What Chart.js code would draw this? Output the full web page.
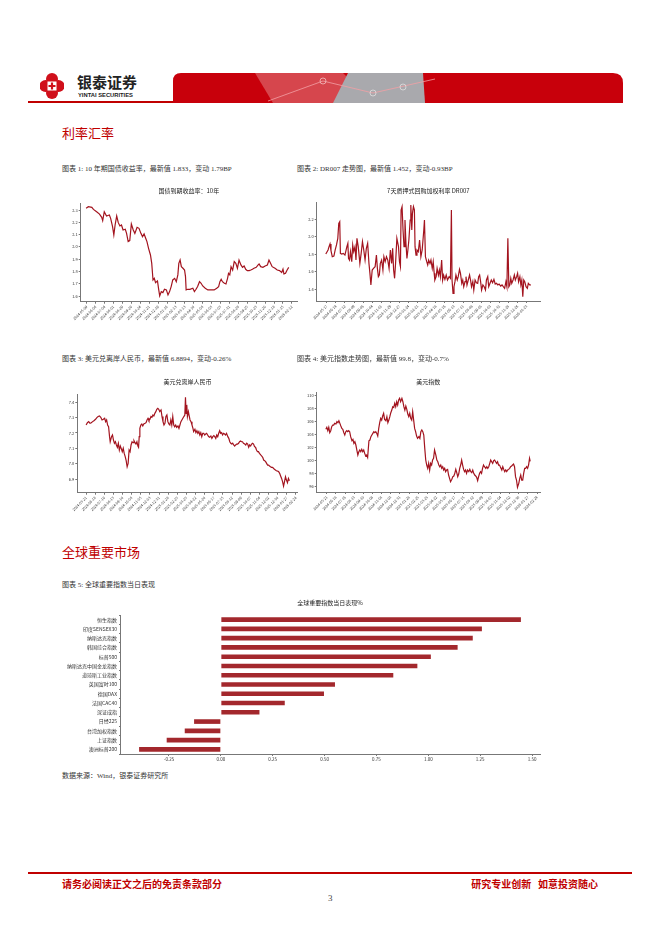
<!DOCTYPE html>
<html>
<head>
<meta charset="utf-8">
<script src="https://cdn.jsdelivr.net/npm/chart.js@4.4.1/dist/chart.umd.min.js"></script>
<style>
body { margin: 0; background: #fff; overflow: hidden; }
#page { position: relative; width: 662px; height: 936px; overflow: hidden; font-family: "Liberation Serif", "Noto Sans CJK SC", serif; color: #222; }
.abs { position: absolute; white-space: nowrap; }
.sec { font-family: "Noto Sans CJK SC"; font-size: 13px; line-height: 13px; color: #c00000; }
.cap { font-size: 7px; line-height: 7px; color: #333; }
.foot { font-family: "Noto Sans CJK SC"; font-size: 10px; line-height: 10px; color: #c00000; font-weight: bold; }
canvas { position: absolute; }
</style>
</head>
<body>
<div id="page">
  <!-- header -->
  <svg class="abs" style="left:40px;top:73px" width="24" height="26" viewBox="0 0 24 26">
    <g fill="#d0101b">
      <circle cx="12" cy="6" r="6"/><circle cx="12" cy="20" r="6"/>
      <circle cx="5.5" cy="13" r="6"/><circle cx="18.5" cy="13" r="6"/>
    </g>
    <rect x="7.5" y="8.5" width="9" height="9" fill="#fff"/>
    <path d="M12 9.5 v7 M8.5 13 h7" stroke="#d0101b" stroke-width="2.2"/>
  </svg>
  <div class="abs" style="left:77px;top:74px;font-family:'Noto Sans CJK SC';font-size:15px;line-height:15px;font-weight:bold;color:#222">银泰证券</div>
  <div class="abs" style="left:78px;top:92px;font-family:'Liberation Sans';font-size:5.8px;line-height:6px;font-weight:bold;color:#222">YINTAI SECURITIES</div>
  <div class="abs" style="left:28px;top:101px;width:147px;height:1.5px;background:#c00000"></div>
  <svg class="abs" style="left:173px;top:73px" width="450" height="30" viewBox="0 0 450 30">
    <path d="M8 0 H440 Q450 0 450 10 V30 H0 V8 Q0 0 8 0 Z" fill="#c8000b"/>
    <polygon points="82,0 170,0 200,30 100,30" fill="#d9575e" opacity="0.8"/>
    <polygon points="175,0 250,0 252,30 160,30" fill="#a9a9ad"/>
    <polyline points="95,28 150,8 200,20 262,6" stroke="#f2a0a4" stroke-width="0.8" fill="none"/>
    <circle cx="150" cy="8" r="3" fill="none" stroke="#f2c0c2" stroke-width="0.8"/>
    <circle cx="200" cy="20" r="3" fill="none" stroke="#e0e0e0" stroke-width="0.8"/>
    <circle cx="230" cy="14" r="3" fill="none" stroke="#e0e0e0" stroke-width="0.8"/>
  </svg>

  <div class="abs sec" style="left:62px;top:126px">利率汇率</div>
  <div class="abs cap" style="left:62px;top:166px">图表 1: 10 年期国债收益率，最新值 1.833，变动 1.79BP</div>
  <div class="abs cap" style="left:297px;top:166px">图表 2: DR007 走势图，最新值 1.452，变动-0.93BP</div>
  <canvas id="c1" width="240" height="150" style="left:60px;top:182px"></canvas>
  <canvas id="c2" width="245" height="150" style="left:297px;top:182px"></canvas>

  <div class="abs cap" style="left:62px;top:356px">图表 3: 美元兑离岸人民币，最新值 6.8894，变动-0.26%</div>
  <div class="abs cap" style="left:297px;top:356px">图表 4: 美元指数走势图，最新值 99.8，变动-0.7%</div>
  <canvas id="c3" width="240" height="150" style="left:60px;top:372px"></canvas>
  <canvas id="c4" width="245" height="150" style="left:297px;top:372px"></canvas>

  <div class="abs sec" style="left:62px;top:545px">全球重要市场</div>
  <div class="abs cap" style="left:62px;top:582px">图表 5: 全球重要指数当日表现</div>
  <canvas id="c5" width="485" height="172" style="left:60px;top:592px"></canvas>
  <div class="abs cap" style="left:62px;top:773px">数据来源：Wind，银泰证券研究所</div>

  <!-- footer -->
  <div class="abs" style="left:28px;top:872px;width:604px;height:1.5px;background:#c00000"></div>
  <div class="abs foot" style="left:62px;top:879px">请务必阅读正文之后的免责条款部分</div>
  <div class="abs foot" style="right:64px;top:879px">研究专业创新&nbsp;&nbsp;&nbsp;如意投资随心</div>
  <div class="abs" style="left:328px;top:894px;font-size:9px;line-height:9px;color:#444">3</div>
</div>

<script>
// chart 1: 10年期国债到期收益率 (day offset from first tick date, value)
const tickDates1 = ['2024-05-09','2024-06-06','2024-07-04','2024-08-01','2024-08-29','2024-09-26','2024-10-24','2024-11-21','2024-12-19','2025-01-16','2025-02-13','2025-03-13','2025-04-10','2025-05-08','2025-06-05','2025-07-03','2025-07-31','2025-08-28','2025-09-25','2025-10-23','2025-11-20','2025-12-18','2026-01-15','2026-02-12'];
const days1 = [-2,5,16,21,31,40,47,50,55,62,71,75,81,85,89,94,99,104,109,114,121,125,130,135,140,146,151,158,164,170,175,180,185,189,194,200,204,208,212,216,222,226,229,234,239,244,250,255,260,265,270,276,281,286,289,293,297,302,307,310,312,317,324,333,338,343,348,354,359,364,372,380,390,400,408,414,418,422,426,432,437,442,445,449,453,458,463,468,473,478,484,489,494,499,504,510,515,520,525,532,538,541,546,553,560,567,572,577,582,591,598,605,612,616,619,624,629,634];
const yield10y = [2.314,2.327,2.322,2.305,2.286,2.267,2.240,2.213,2.286,2.251,2.259,2.232,2.164,2.097,2.178,2.251,2.197,2.170,2.178,2.137,2.143,2.110,2.043,2.051,2.186,2.137,2.110,2.159,2.151,2.110,2.083,2.105,2.070,2.043,1.988,1.934,1.866,1.731,1.744,1.709,1.723,1.650,1.601,1.636,1.628,1.655,1.650,1.609,1.636,1.677,1.731,1.744,1.717,1.772,1.866,1.893,1.839,1.826,1.812,1.758,1.650,1.655,1.655,1.663,1.636,1.655,1.677,1.717,1.704,1.682,1.663,1.650,1.650,1.650,1.663,1.677,1.717,1.736,1.717,1.704,1.698,1.744,1.785,1.772,1.839,1.812,1.880,1.866,1.826,1.893,1.853,1.834,1.845,1.818,1.807,1.807,1.812,1.818,1.826,1.834,1.853,1.861,1.839,1.834,1.845,1.853,1.893,1.866,1.839,1.826,1.812,1.807,1.791,1.818,1.780,1.785,1.812,1.833];
const yTicks1 = [1.6,1.7,1.8,1.9,2.0,2.1,2.2,2.3];

// chart 2: DR007
const tickDates2 = ['2024-05-17','2024-06-14','2024-07-12','2024-08-09','2024-09-06','2024-10-04','2024-11-01','2024-11-29','2024-12-27','2025-01-24','2025-02-21','2025-03-21','2025-04-18','2025-05-16','2025-06-13','2025-07-11','2025-08-08','2025-09-05','2025-10-03','2025-10-31','2025-11-28','2025-12-26','2026-01-23'];
const days2 = [-3,1,4,7,10,13,17,22,26,30,34,37,40,42,46,51,56,62,65,67,70,73,77,80,83,87,90,93,97,102,106,110,114,118,122,126,130,133,136,140,144,149,153,156,159,162,165,169,173,176,180,184,188,192,196,200,203,206,209,212,216,221,224,227,229,232,235,238,241,244,247,250,253,257,259,262,264,267,270,272,275,278,282,286,290,294,299,301,304,308,311,314,318,321,325,328,331,333,337,340,344,347,350,354,357,360,364,368,372,377,381,384,386,389,392,395,398,402,405,409,412,416,419,422,426,429,432,436,440,443,446,450,453,457,461,465,468,471,474,477,481,485,489,492,496,499,503,507,511,515,519,523,527,531,536,540,544,548,552,555,558,561,564,567,570,574,578,581,585,588,591,595,598,601,604,607,610,614,618,621,625,629];
const dr007 = [1.804,1.830,1.850,1.888,1.918,1.842,1.773,1.781,1.850,1.907,1.983,2.154,2.173,1.811,1.804,1.811,1.792,1.888,1.926,1.754,1.735,1.830,1.716,1.907,1.830,1.888,1.735,1.983,1.888,1.697,1.811,1.945,1.850,1.735,1.869,1.926,1.697,1.583,1.450,1.621,1.640,1.659,1.792,1.640,1.545,1.564,1.697,1.735,1.621,1.773,1.716,1.773,1.735,1.640,1.850,1.697,1.869,1.621,1.526,1.697,1.983,1.888,1.716,1.659,2.307,2.345,2.078,1.888,2.192,1.926,1.754,1.850,1.964,2.192,2.364,2.078,2.269,2.345,2.307,1.888,1.792,1.850,1.830,1.964,1.773,1.850,2.078,2.192,1.773,1.716,1.678,1.735,1.697,1.735,1.640,1.716,1.583,1.507,1.545,1.640,1.564,1.621,1.545,1.735,1.507,1.564,1.514,1.564,1.507,1.545,1.526,2.307,1.507,1.354,1.430,1.488,1.564,1.507,1.545,1.629,1.583,1.469,1.507,1.430,1.488,1.545,1.450,1.507,1.564,1.507,1.430,1.488,1.392,1.507,1.476,1.469,1.545,1.564,1.488,1.392,1.450,1.430,1.392,1.507,1.545,1.430,1.469,1.507,1.476,1.514,1.461,1.469,1.450,1.461,1.438,1.450,1.430,1.411,1.488,1.430,1.983,1.430,1.450,1.526,1.469,1.507,1.564,1.507,1.545,1.583,1.488,1.545,1.450,1.507,1.316,1.507,1.488,1.430,1.411,1.469,1.450,1.452];
const yTicks2 = [1.4,1.6,1.8,2.0,2.2];

// chart 3: 美元兑离岸人民币
const tickDates3 = ['2024-05-21','2024-06-18','2024-07-16','2024-08-13','2024-09-10','2024-10-08','2024-11-05','2024-12-03','2024-12-31','2025-01-28','2025-02-25','2025-03-25','2025-04-22','2025-05-20','2025-06-17','2025-07-15','2025-08-12','2025-09-09','2025-10-07','2025-11-04','2025-12-02','2025-12-30','2026-01-27','2026-02-24'];
const days3 = [0,4,8,12,16,20,24,29,33,37,41,45,49,53,57,60,63,66,69,72,74,78,81,84,87,90,93,96,99,102,105,108,111,114,117,120,123,126,129,132,135,138,141,144,147,150,153,156,159,161,163,165,168,171,174,177,181,184,187,190,193,196,199,202,205,208,211,214,217,220,223,226,230,233,236,239,242,245,248,251,254,257,260,263,266,269,272,275,278,282,285,288,291,294,297,300,303,305,307,309,311,314,316,319,322,325,328,330,334,337,340,343,346,349,352,355,358,361,364,367,370,373,376,379,383,386,389,392,395,398,401,404,407,410,413,416,419,422,425,428,431,435,438,441,444,447,450,453,456,459,462,465,468,471,474,477,480,483,487,490,493,496,499,502,505,508,511,514,517,520,523,526,529,532,536,539,542,545,548,551,554,557,560,563,566,569,572,575,578,581,584,588,591,594,597,600,603,606,609,612,615,618,621,624];
const usdcnh = [7.252,7.267,7.274,7.263,7.267,7.274,7.280,7.289,7.300,7.307,7.311,7.302,7.285,7.289,7.296,7.274,7.285,7.252,7.241,7.176,7.143,7.176,7.187,7.154,7.133,7.143,7.122,7.107,7.133,7.089,7.115,7.098,7.078,7.100,7.067,7.046,7.020,6.980,7.002,7.089,7.078,7.122,7.143,7.137,7.150,7.137,7.128,7.143,7.115,7.107,7.176,7.230,7.252,7.259,7.246,7.259,7.263,7.267,7.285,7.296,7.280,7.289,7.307,7.302,7.317,7.311,7.328,7.339,7.354,7.361,7.354,7.339,7.350,7.307,7.274,7.252,7.263,7.307,7.317,7.274,7.259,7.252,7.285,7.252,7.307,7.252,7.241,7.252,7.237,7.246,7.230,7.252,7.274,7.285,7.296,7.307,7.317,7.433,7.328,7.383,7.307,7.339,7.317,7.285,7.274,7.252,7.230,7.209,7.224,7.202,7.215,7.198,7.209,7.187,7.202,7.176,7.198,7.198,7.187,7.193,7.198,7.187,7.176,7.172,7.180,7.165,7.176,7.183,7.176,7.165,7.187,7.176,7.198,7.215,7.198,7.202,7.187,7.198,7.193,7.187,7.198,7.176,7.165,7.143,7.133,7.128,7.133,7.122,7.115,7.122,7.128,7.128,7.133,7.143,7.148,7.143,7.143,7.133,7.128,7.122,7.133,7.128,7.107,7.122,7.115,7.128,7.133,7.128,7.111,7.107,7.089,7.078,7.078,7.067,7.057,7.050,7.041,7.024,7.020,7.013,7.002,6.991,6.991,6.985,6.980,6.976,6.976,6.970,6.963,6.959,6.954,6.952,6.948,6.937,6.920,6.904,6.883,6.854,6.883,6.915,6.893,6.876,6.904,6.889];
const yTicks3 = [6.9,7.0,7.1,7.2,7.3,7.4];

// chart 4: 美元指数
const tickDates4 = tickDates3;
const days4 = [-3,0,3,6,9,12,15,18,21,24,28,31,34,37,40,43,46,49,52,55,58,61,64,67,70,73,77,80,83,86,89,92,95,98,101,104,107,110,113,116,119,122,125,129,132,135,138,141,144,147,150,153,156,159,162,165,168,171,174,177,181,184,187,190,193,196,199,202,205,208,211,214,217,220,223,226,230,233,236,239,242,245,248,251,254,257,260,263,266,269,272,275,278,282,285,288,291,294,297,300,303,306,309,312,315,318,321,324,327,330,334,337,340,343,346,349,352,355,358,361,364,367,370,373,376,379,383,386,389,392,395,398,401,404,407,410,413,416,419,422,425,428,431,435,438,441,444,447,450,453,456,459,462,465,468,471,474,477,480,483,487,490,493,496,499,502,505,508,511,514,517,520,523,526,529,532,536,539,542,545,548,551,554,557,560,563,566,569,572,575,578,581,584,588,591,594,597,600,603,606,609,612,615,618,621,623];
const dxy = [104.72,105.03,104.51,105.03,104.21,104.51,105.13,105.38,105.38,105.64,105.54,105.90,105.74,106.05,105.64,105.23,104.87,104.72,104.21,103.85,104.36,104.51,104.36,104.51,104.36,103.59,102.97,103.18,102.56,102.82,102.31,101.54,100.77,101.28,101.54,101.28,101.64,101.28,101.54,101.03,100.62,100.77,100.41,102.97,103.08,103.59,103.85,104.10,104.36,104.21,104.36,104.10,103.69,104.87,105.74,106.41,106.15,106.77,107.18,106.26,106.05,106.67,105.74,106.15,106.67,107.28,107.69,108.21,108.10,108.72,108.21,108.97,108.46,109.23,109.49,108.97,109.49,108.97,108.21,107.69,108.31,107.79,107.08,106.67,107.18,106.41,106.15,107.44,106.15,104.87,104.36,103.69,103.33,103.59,103.33,104.36,104.62,104.36,103.85,101.79,100.00,99.23,98.72,99.49,98.46,99.49,99.23,100.00,100.26,101.54,100.77,100.00,99.74,99.23,98.97,99.23,98.72,98.97,98.46,98.72,98.21,98.46,98.56,97.69,97.18,96.67,97.03,97.44,97.54,97.95,98.56,98.05,97.44,97.85,98.72,99.23,100.00,99.23,98.56,98.21,98.46,97.95,98.46,98.21,98.56,98.21,98.05,98.46,97.95,97.69,97.54,97.33,96.82,97.44,97.95,98.21,97.95,98.72,99.23,98.97,98.72,98.97,98.72,98.97,99.49,100.00,99.74,99.49,99.90,100.00,99.74,99.49,99.74,99.23,99.23,98.87,98.46,98.97,98.56,98.21,98.46,98.21,98.46,98.56,98.72,98.97,99.08,99.23,99.38,98.97,97.44,96.92,95.79,96.41,97.18,97.69,96.92,96.92,97.95,98.72,98.72,98.97,98.72,99.23,100.26,99.80];
const yTicks4 = [96,98,100,102,104,106,108,110];

// chart 5: 全球重要指数当日表现%
const indexNames = ['恒生指数','印度SENSEX30','纳斯达克指数','韩国综合指数','标普500','纳斯达克中国金龙指数','道琼斯工业指数','英国富时100','德国DAX','法国CAC40','深证成指','日经225','台湾加权指数','上证指数','澳洲标普200'];
const indexChanges = [1.446,1.258,1.214,1.141,1.012,0.947,0.831,0.550,0.497,0.308,0.186,-0.129,-0.174,-0.261,-0.394];
const xTicks5 = [-0.25,0,0.25,0.5,0.75,1.0,1.25,1.5];

Chart.defaults.font.family = "'Noto Sans CJK SC', 'DejaVu Sans', sans-serif";
Chart.defaults.color = '#333';

const LINE_RED = '#a3141f';
const AXIS = '#777';

function dayOf(s, base) {
    return Math.round((Date.parse(s) - Date.parse(base)) / 864e5);
}

// box: chart area in canvas pixels {l, t, r, b}; ty: title centre
function makeLine(cfg) {
    const el = document.getElementById(cfg.id);
    const w = el.width, h = el.height, b = cfg.box;
    const fs = 6;
    const padTop = cfg.ty - fs * 0.6;
    new Chart(el, {
        type: 'line',
        data: {
            datasets: [{
                data: cfg.xs.map((x, i) => ({ x: x, y: cfg.ys[i] })),
                borderColor: LINE_RED,
                borderWidth: 1.2,
                pointRadius: 0,
                tension: 0
            }]
        },
        options: {
            responsive: false,
            animation: false,
            layout: { padding: { left: 0, top: 0, right: w - b.r, bottom: 0 } },
            plugins: {
                legend: { display: false },
                tooltip: { enabled: false },
                title: {
                    display: true,
                    text: cfg.title,
                    fullSize: false,
                    color: '#222',
                    font: { size: fs, weight: 'normal' },
                    padding: { top: padTop, bottom: b.t - padTop - fs * 1.2 }
                }
            },
            scales: {
                x: {
                    type: 'linear',
                    min: cfg.xMin,
                    max: cfg.xMax,
                    afterFit: s => { s.height = h - b.b; },
                    afterBuildTicks: s => {
                        s.ticks = cfg.ticks.map(d => ({ value: dayOf(d, cfg.ticks[0]) }));
                    },
                    ticks: {
                        autoSkip: false,
                        minRotation: 45,
                        maxRotation: 45,
                        padding: 1,
                        font: { size: 3.6 },
                        callback: (v, i) => cfg.ticks[i]
                    },
                    grid: { drawOnChartArea: false, tickLength: 2, color: AXIS },
                    border: { color: AXIS, width: 1 }
                },
                y: {
                    min: cfg.yMin,
                    max: cfg.yMax,
                    afterFit: s => { s.width = b.l; },
                    afterBuildTicks: s => { s.ticks = cfg.yTicks.map(v => ({ value: v })); },
                    ticks: {
                        padding: 1,
                        font: { size: 4 },
                        callback: v => cfg.fmt(v)
                    },
                    grid: { drawOnChartArea: false, tickLength: 2, color: AXIS },
                    border: { color: AXIS, width: 1 }
                }
            }
        }
    });
}

makeLine({
    id: 'c1', title: '国债到期收益率：10年', xs: days1, ys: yield10y, ticks: tickDates1,
    yTicks: yTicks1, yMin: 1.554, yMax: 2.357, xMin: -19, xMax: 660,
    box: { l: 20.7, t: 21, r: 237, b: 119.7 }, ty: 9, fmt: v => v.toFixed(1)
});
makeLine({
    id: 'c2', title: '7天质押式回购加权利率 DR007', xs: days2, ys: dr007, ticks: tickDates2,
    yTicks: yTicks2, yMin: 1.267, yMax: 2.39, xMin: -31, xMax: 657,
    box: { l: 19.7, t: 20.7, r: 243, b: 119 }, ty: 9, fmt: v => v.toFixed(1)
});
makeLine({
    id: 'c3', title: '美元兑离岸人民币', xs: days3, ys: usdcnh, ticks: tickDates3,
    yTicks: yTicks3, yMin: 6.811, yMax: 7.454, xMin: -27, xMax: 650,
    box: { l: 17.3, t: 22, r: 238, b: 120.7 }, ty: 10, fmt: v => v.toFixed(1)
});
makeLine({
    id: 'c4', title: '美元指数', xs: days4, ys: dxy, ticks: tickDates4,
    yTicks: yTicks4, yMin: 95.08, yMax: 110.36, xMin: -31, xMax: 653,
    box: { l: 19.7, t: 20.7, r: 243, b: 120 }, ty: 10, fmt: v => String(v)
});

// bar chart
(function () {
    const el = document.getElementById('c5');
    const w = el.width, h = el.height;
    const box = { l: 60, t: 23, r: 480, b: 162 };
    const fs = 6, ty = 11;
    const padTop = ty - fs * 0.6;
    new Chart(el, {
        type: 'bar',
        data: {
            labels: indexNames,
            datasets: [{
                data: indexChanges,
                backgroundColor: '#a3282d',
                barPercentage: 0.5,
                categoryPercentage: 1
            }]
        },
        options: {
            indexAxis: 'y',
            responsive: false,
            animation: false,
            layout: { padding: { left: 0, top: 0, right: w - box.r, bottom: 0 } },
            plugins: {
                legend: { display: false },
                tooltip: { enabled: false },
                title: {
                    display: true,
                    text: '全球重要指数当日表现%',
                    fullSize: false,
                    color: '#222',
                    font: { size: fs, weight: 'normal' },
                    padding: { top: padTop, bottom: box.t - padTop - fs * 1.2 }
                }
            },
            scales: {
                x: {
                    min: -0.486,
                    max: 1.538,
                    afterFit: s => { s.height = h - box.b; },
                    afterBuildTicks: s => { s.ticks = xTicks5.map(v => ({ value: v })); },
                    ticks: { font: { size: 4.5 }, padding: 1, callback: v => v.toFixed(2) },
                    grid: { drawOnChartArea: false, tickLength: 2, color: AXIS },
                    border: { color: AXIS, width: 1 }
                },
                y: {
                    afterFit: s => { s.width = box.l; },
                    ticks: { font: { size: 5 }, padding: 2, autoSkip: false },
                    grid: { drawOnChartArea: false, tickLength: 1, color: AXIS },
                    border: { color: AXIS, width: 1 }
                }
            }
        }
    });
})();
</script>
</body>
</html>
